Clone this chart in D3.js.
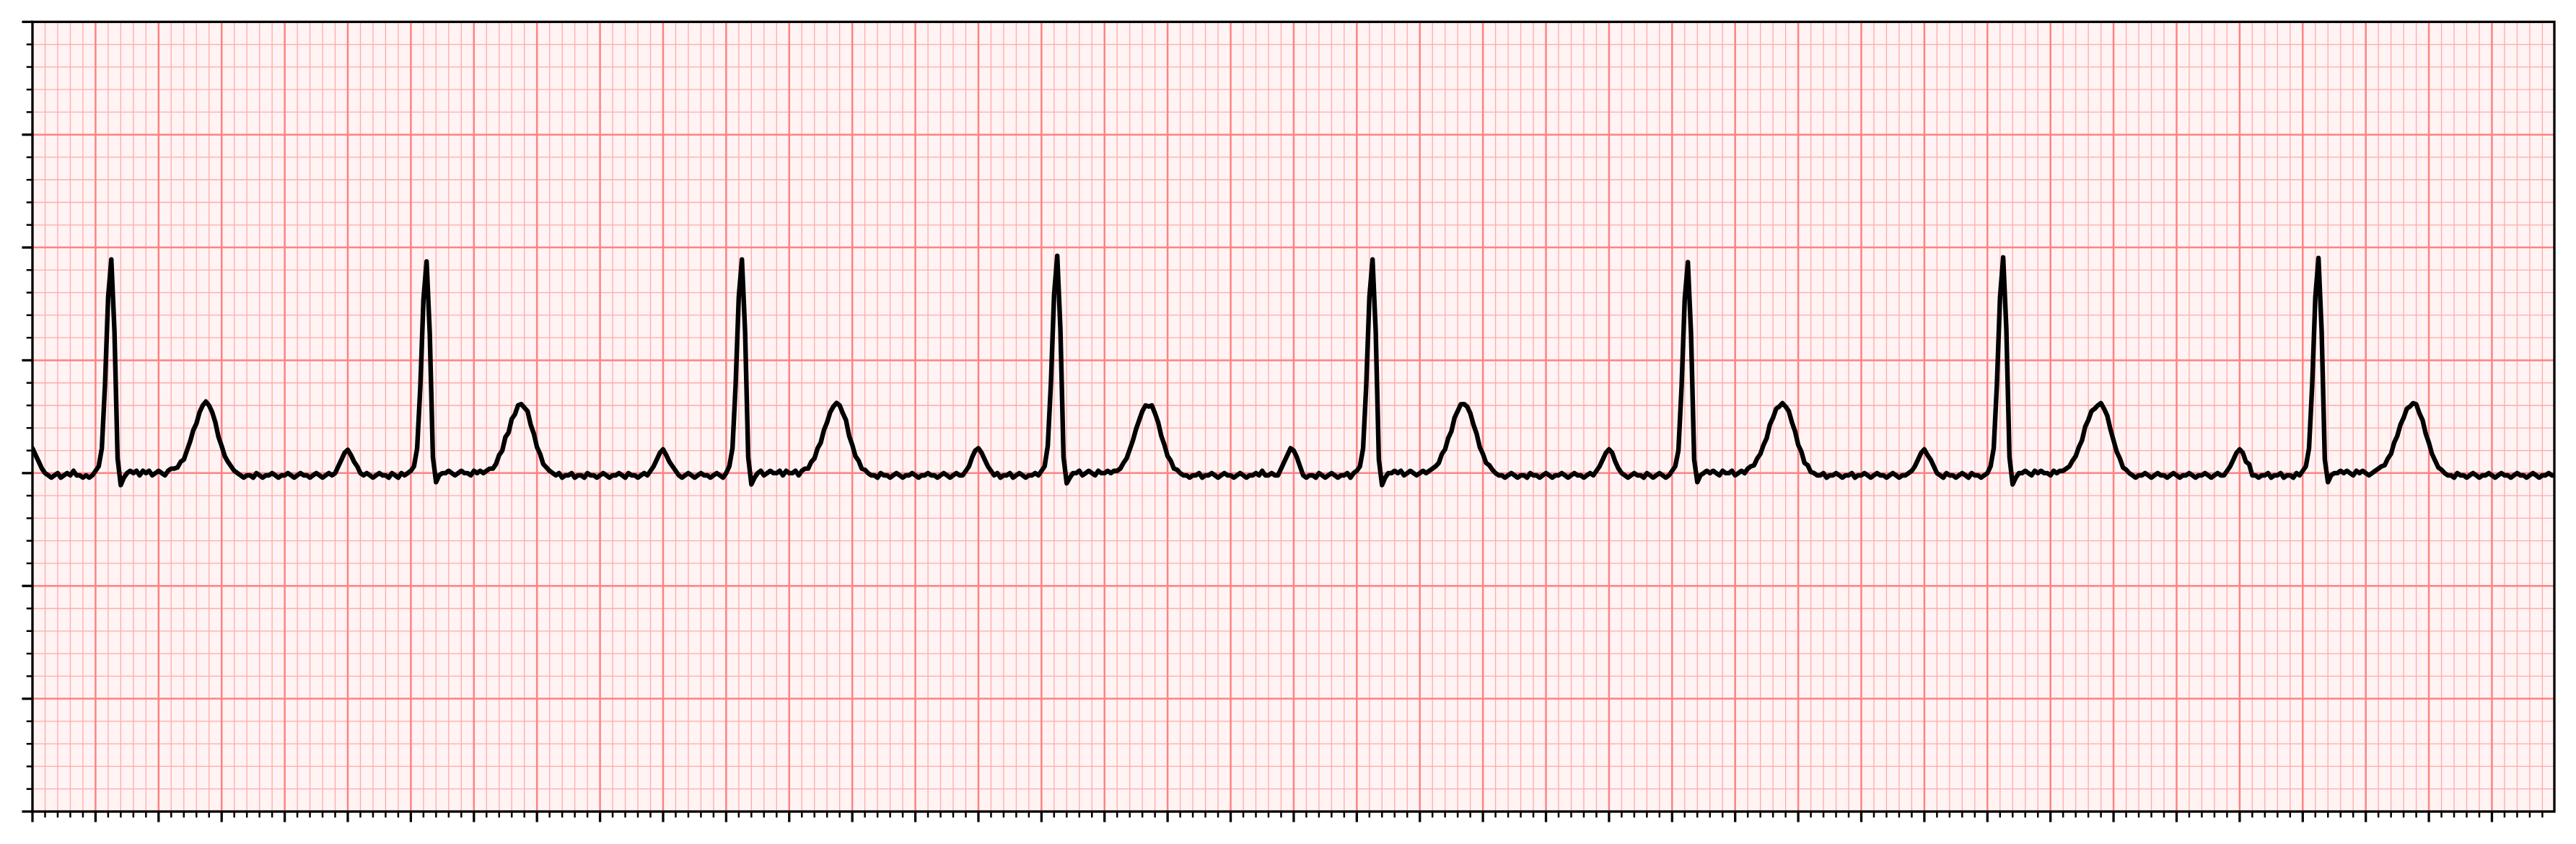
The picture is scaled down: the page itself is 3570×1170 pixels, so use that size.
<!DOCTYPE html>
<html>
<head>
<meta charset="utf-8">
<script src="https://cdn.jsdelivr.net/npm/d3@7"></script>
<style>
  html, body { margin: 0; padding: 0; background: #ffffff; }
  svg { display: block; }
</style>
</head>
<body>
<svg id="chart" width="3570" height="1170"></svg>
<script>
// ---------------- DATA (ECG trace, mV, one sample every 0.01 s) ----------------
const sampleInterval = 0.01;          // seconds between samples
const timeDomain = [0, 7.998];        // seconds
const voltDomain = [-1.5, 2.0];       // mV
const minorTimeStep = 0.04, majorTimeStep = 0.2;
const minorVoltStep = 0.1,  majorVoltStep = 0.5;

// each beat: P tail, PR segment, QRS, ST segment, T wave, TP segment, next P upstroke
const beat0 = [
  0.11, 0.08, 0.05, 0.02, 0.00,
  -0.01, -0.02, -0.01, 0.00, -0.02, -0.01, 0.00, -0.01, 0.01, -0.01, -0.01, -0.02, -0.01, -0.02, -0.01,
  0.01, 0.03, 0.11, 0.39, 0.78, 0.947, 0.63, 0.065, -0.053, -0.02, 0.00,
  0.01, 0.00, 0.01, -0.01, 0.01, 0.00, 0.01, -0.01, 0.00, 0.01, 0.00, -0.01, 0.01, 0.02, 0.02,
  0.025, 0.05, 0.06, 0.10, 0.14, 0.19, 0.22, 0.27, 0.30, 0.317, 0.30, 0.27, 0.225, 0.16, 0.12, 0.075, 0.05, 0.03, 0.01, 0.00,
  -0.01, -0.02, -0.01, -0.01, -0.02, 0.00, -0.01, -0.02, -0.01, -0.01, 0.00, -0.01, -0.02, -0.01, -0.01,
  0.00, -0.01, -0.02, -0.01, 0.00, -0.01, -0.01, -0.02, -0.01, 0.00, -0.01, -0.02, -0.01, 0.00, -0.01,
  0.00, 0.03, 0.06, 0.09
];
const beat1 = [
  0.103, 0.08, 0.05, 0.03, 0.00,
  -0.01, 0.00, -0.01, -0.02, -0.01, 0.00, -0.01, -0.01, -0.02, 0.00, -0.01, -0.02, 0.00, -0.01, 0.00,
  0.01, 0.03, 0.11, 0.38, 0.77, 0.938, 0.62, 0.07, -0.04, -0.01, 0.00,
  0.00, 0.01, 0.00, -0.01, 0.00, 0.01, 0.00, 0.00, -0.01, 0.01, 0.00, 0.01, 0.00, 0.01, 0.02,
  0.02, 0.04, 0.08, 0.10, 0.16, 0.18, 0.24, 0.26, 0.30, 0.306, 0.29, 0.275, 0.215, 0.175, 0.115, 0.085, 0.04, 0.025, 0.01, 0.00,
  -0.01, 0.00, -0.02, -0.01, -0.01, 0.00, -0.02, -0.01, -0.01, -0.02, 0.00, -0.01, -0.01, -0.02, -0.01,
  0.00, -0.01, -0.02, -0.01, -0.01, 0.00, -0.01, -0.02, 0.00, -0.01, -0.01, -0.02, -0.01, 0.00, -0.01,
  0.01, 0.03, 0.06, 0.09
];
const beat2 = [
  0.105, 0.08, 0.05, 0.03, 0.01,
  -0.01, -0.02, -0.01, 0.00, -0.01, -0.02, -0.01, 0.00, -0.01, -0.01, -0.02, -0.01, 0.00, -0.01, -0.02,
  0.00, 0.03, 0.11, 0.39, 0.78, 0.947, 0.63, 0.07, -0.05, -0.02, 0.00,
  0.01, -0.01, 0.00, 0.01, 0.00, 0.00, 0.01, -0.01, 0.01, 0.00, 0.00, 0.01, -0.01, 0.01, 0.02,
  0.02, 0.05, 0.065, 0.11, 0.135, 0.19, 0.225, 0.27, 0.295, 0.311, 0.30, 0.265, 0.235, 0.165, 0.125, 0.075, 0.055, 0.02, 0.015, 0.00,
  -0.01, -0.01, -0.02, 0.00, -0.01, -0.01, -0.02, -0.01, 0.00, -0.01, -0.02, -0.01, -0.01, 0.00, -0.01,
  -0.02, -0.01, -0.01, 0.00, -0.01, -0.01, -0.02, -0.01, 0.00, -0.01, -0.02, -0.01, 0.00, -0.01, -0.01,
  0.01, 0.03, 0.07, 0.10
];
const beat3 = [
  0.11, 0.09, 0.06, 0.03, 0.01,
  -0.01, 0.00, -0.02, -0.01, -0.01, 0.00, -0.02, -0.01, 0.00, -0.01, -0.02, -0.01, -0.01, 0.00, -0.01,
  0.01, 0.03, 0.12, 0.40, 0.79, 0.963, 0.64, 0.07, -0.045, -0.02, 0.00,
  0.00, 0.01, -0.01, 0.00, 0.01, 0.00, -0.01, 0.01, 0.00, 0.00, 0.01, 0.00, 0.01, 0.01,
  0.02, 0.045, 0.065, 0.105, 0.145, 0.195, 0.235, 0.275, 0.30, 0.295, 0.30, 0.265, 0.225, 0.165, 0.125, 0.075, 0.055, 0.02, 0.015, 0.00, -0.01,
  -0.01, -0.02, -0.01, -0.01, 0.00, -0.02, -0.01, -0.01, 0.00, -0.01, -0.02, -0.01, 0.00, -0.01, -0.01,
  -0.02, -0.01, 0.00, -0.01, -0.02, -0.01, -0.01, 0.00, -0.01, 0.01, -0.01, -0.01, 0.00, -0.01, -0.01,
  0.02, 0.05, 0.08, 0.11
];
const beat4 = [
  0.10, 0.07, 0.03, -0.01, -0.02,
  -0.01, -0.01, -0.02, 0.00, -0.01, -0.02, -0.01, 0.00, -0.01, -0.02, -0.01, -0.01, 0.00, -0.02, 0.00,
  0.01, 0.03, 0.11, 0.39, 0.78, 0.947, 0.63, 0.06, -0.053, -0.02, 0.00,
  0.00, 0.01, 0.00, 0.01, -0.01, 0.00, 0.01, 0.00, -0.01, 0.00, 0.01, 0.00, 0.01, 0.02,
  0.03, 0.045, 0.085, 0.105, 0.155, 0.185, 0.245, 0.275, 0.305, 0.306, 0.295, 0.265, 0.215, 0.175, 0.115, 0.085, 0.045, 0.035, 0.015, 0.00, -0.01,
  -0.01, -0.02, -0.01, 0.00, -0.01, -0.02, -0.01, -0.01, -0.02, 0.00, -0.01, -0.01, -0.02, -0.01, 0.00,
  -0.01, -0.02, -0.01, -0.01, 0.00, -0.01, -0.02, -0.01, 0.00, -0.01, -0.01, -0.02, -0.01, 0.00, -0.01,
  0.01, 0.03, 0.06, 0.09
];
const beat5 = [
  0.105, 0.09, 0.05, 0.02, 0.00,
  -0.01, -0.02, -0.01, 0.00, -0.01, -0.01, -0.02, 0.00, -0.01, -0.02, -0.01, 0.00, -0.01, -0.02, -0.01,
  0.01, 0.03, 0.10, 0.38, 0.77, 0.935, 0.62, 0.06, -0.04, -0.01, 0.00,
  0.01, 0.00, 0.01, 0.00, -0.01, 0.01, 0.00, 0.00, 0.01, -0.01, 0.00, 0.01, 0.00, 0.02, 0.03,
  0.035, 0.065, 0.085, 0.125, 0.155, 0.215, 0.245, 0.285, 0.295, 0.31, 0.295, 0.275, 0.225, 0.185, 0.125, 0.095, 0.045, 0.035, 0.005, 0.00,
  -0.01, -0.01, 0.00, -0.02, -0.01, -0.01, 0.00, -0.01, -0.02, -0.01, -0.01, 0.00, -0.02, -0.01, -0.01,
  0.00, -0.01, -0.02, -0.01, 0.00, -0.01, -0.01, -0.02, -0.01, 0.00, -0.01, -0.02, -0.01, -0.01, 0.00,
  0.01, 0.03, 0.06, 0.09
];
const beat6 = [
  0.105, 0.08, 0.06, 0.03, 0.00,
  -0.01, -0.02, 0.00, -0.01, -0.01, -0.02, -0.01, 0.00, -0.01, -0.02, 0.00, -0.01, -0.01, -0.02, -0.01,
  0.00, 0.03, 0.11, 0.39, 0.78, 0.956, 0.64, 0.07, -0.05, -0.02, 0.00,
  0.00, 0.01, 0.00, -0.01, 0.01, 0.00, 0.01, 0.00, 0.00, -0.01, 0.01, 0.00, 0.01, 0.01, 0.02,
  0.03, 0.055, 0.075, 0.115, 0.145, 0.205, 0.235, 0.275, 0.285, 0.30, 0.31, 0.285, 0.255, 0.195, 0.145, 0.095, 0.065, 0.025, 0.015, 0.00,
  -0.01, -0.02, -0.01, -0.01, 0.00, -0.01, -0.02, -0.01, 0.00, -0.01, -0.01, -0.02, -0.01, 0.00, -0.01,
  -0.02, -0.01, -0.01, 0.00, -0.01, -0.02, -0.01, -0.01, 0.00, -0.01, -0.02, -0.01, 0.00, -0.01, -0.01,
  0.01, 0.03, 0.06, 0.09
];
const beat7 = [
  0.105, 0.09, 0.05, 0.04, -0.01,
  -0.01, -0.02, -0.01, -0.01, 0.00, -0.02, -0.01, -0.01, 0.00, -0.02, -0.01, -0.01, -0.02, 0.00, -0.01,
  0.01, 0.03, 0.11, 0.39, 0.78, 0.953, 0.63, 0.06, -0.04, -0.01, 0.00,
  0.00, 0.01, 0.00, 0.01, 0.00, -0.01, 0.01, 0.00, 0.01, 0.00, -0.01, 0.00, 0.01, 0.02, 0.03,
  0.035, 0.065, 0.085, 0.135, 0.165, 0.215, 0.245, 0.285, 0.295, 0.31, 0.305, 0.265, 0.235, 0.175, 0.135, 0.085, 0.055, 0.025, 0.015, 0.00,
  -0.01, -0.01, -0.02, 0.00, -0.01, -0.01, -0.02, -0.01, 0.00, -0.01, -0.02, -0.01, -0.01, 0.00, -0.01,
  -0.02, -0.01, 0.00, -0.01, -0.01, -0.02, -0.01, 0.00, -0.01, -0.01, -0.02, -0.01, 0.00, -0.01, -0.02,
  -0.01, -0.01, 0.00, -0.01, -0.01
];

const signal = [].concat(beat0, beat1, beat2, beat3, beat4, beat5, beat6, beat7);

// ---------------- STYLE / LAYOUT ----------------
const W = 3570, H = 1170;
const plot = { left: 45, right: 3540, top: 30.3, bottom: 1125 };
const colors = {
  paper: '#fff3f3',
  minor: '#ffaaaa',
  major: '#ff8282',
  trace: '#000000',
  axis: '#000000'
};

const x = d3.scaleLinear().domain(timeDomain).range([plot.left, plot.right]);
const y = d3.scaleLinear().domain(voltDomain).range([plot.bottom, plot.top]);
const plotW = plot.right - plot.left, plotH = plot.bottom - plot.top;

function stepValues(domain, step) {
  const n = Math.floor((domain[1] - domain[0]) / step + 1e-6);
  return d3.range(0, n + 1).map(k => +(domain[0] + k * step).toFixed(6));
}
const majorX = stepValues(timeDomain, majorTimeStep);
const minorX = stepValues(timeDomain, minorTimeStep).filter(v => !majorX.some(m => Math.abs(m - v) < 1e-6));
const majorY = stepValues(voltDomain, majorVoltStep);
const minorY = stepValues(voltDomain, minorVoltStep).filter(v => !majorY.some(m => Math.abs(m - v) < 1e-6));

const svg = d3.select('#chart');

svg.append('rect')
  .attr('x', plot.left).attr('y', plot.top)
  .attr('width', plotW).attr('height', plotH)
  .attr('fill', colors.paper);

function grid(values, orient, color, width) {
  const g = svg.append('g');
  if (orient === 'x') {
    g.attr('transform', `translate(0,${plot.bottom})`)
     .call(d3.axisBottom(x).tickValues(values).tickSize(-plotH).tickFormat('').offset(0));
  } else {
    g.attr('transform', `translate(${plot.left},0)`)
     .call(d3.axisLeft(y).tickValues(values).tickSize(-plotW).tickFormat('').offset(0));
  }
  g.select('.domain').remove();
  g.selectAll('.tick line').attr('stroke', color).attr('stroke-width', width);
}
grid(minorX, 'x', colors.minor, 1.3);
grid(minorY, 'y', colors.minor, 1.3);
grid(majorX, 'x', colors.major, 2.5);
grid(majorY, 'y', colors.major, 2.5);

// trace
svg.append('clipPath').attr('id', 'clip')
  .append('rect').attr('x', plot.left).attr('y', plot.top).attr('width', plotW).attr('height', plotH);

const line = d3.line()
  .x((d, i) => x(i * sampleInterval))
  .y(d => y(d));

svg.append('path')
  .datum(signal)
  .attr('clip-path', 'url(#clip)')
  .attr('d', line)
  .attr('fill', 'none')
  .attr('stroke', colors.trace)
  .attr('stroke-width', 6.4)
  .attr('stroke-linejoin', 'round')
  .attr('stroke-linecap', 'round');

// ticks (no labels)
function ticks(values, orient, size, width) {
  const g = svg.append('g');
  if (orient === 'x') {
    g.attr('transform', `translate(0,${plot.bottom})`)
     .call(d3.axisBottom(x).tickValues(values).tickSizeInner(size).tickSizeOuter(0).tickFormat('').offset(0));
  } else {
    g.attr('transform', `translate(${plot.left},0)`)
     .call(d3.axisLeft(y).tickValues(values).tickSizeInner(size).tickSizeOuter(0).tickFormat('').offset(0));
  }
  g.select('.domain').remove();
  g.selectAll('.tick line').attr('stroke', colors.axis).attr('stroke-width', width);
}
ticks(minorX, 'x', 8.3, 2.5);
ticks(minorY, 'y', 8.3, 2.5);
ticks(majorX, 'x', 14.6, 3.3);
ticks(majorY, 'y', 14.6, 3.3);

// spines
svg.append('rect')
  .attr('x', plot.left).attr('y', plot.top)
  .attr('width', plotW).attr('height', plotH)
  .attr('fill', 'none')
  .attr('stroke', colors.axis)
  .attr('stroke-width', 3.3);
</script>
</body>
</html>
